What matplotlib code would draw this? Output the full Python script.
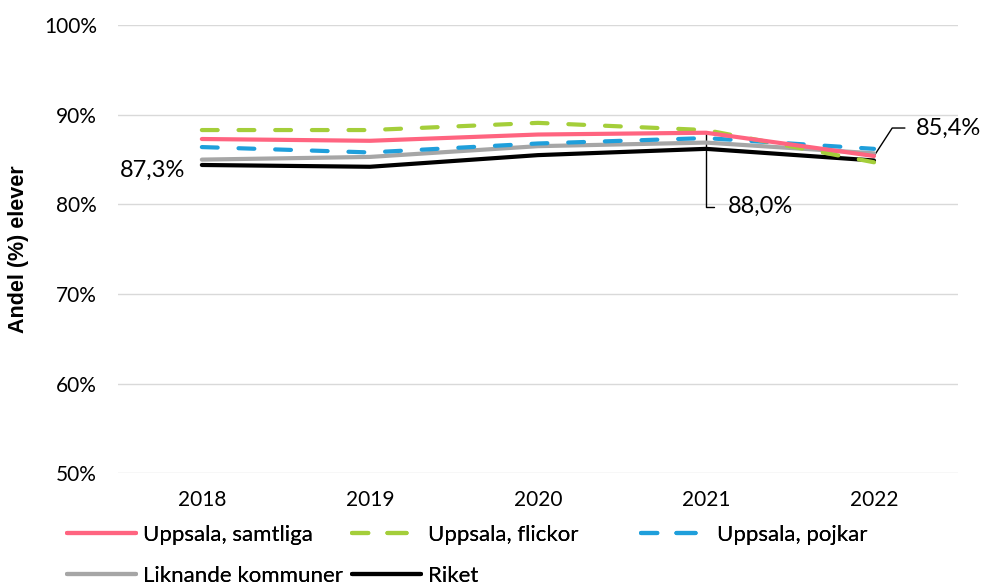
import matplotlib
matplotlib.use("Agg")
import matplotlib.pyplot as plt
from matplotlib.lines import Line2D
from matplotlib.ticker import FuncFormatter

plt.rcParams['font.family'] = ['Lato', 'DejaVu Sans']

years = ["2018", "2019", "2020", "2021", "2022"]
samtliga = [87.3, 87.1, 87.8, 88.0, 85.4]
flickor = [88.3, 88.3, 89.1, 88.3, 84.7]
pojkar = [86.4, 85.8, 86.8, 87.4, 86.2]
liknande = [85.0, 85.3, 86.5, 86.9, 85.7]
riket = [84.4, 84.2, 85.5, 86.2, 84.9]

W, H = 982, 587
fig = plt.figure(figsize=(W / 100, H / 100), dpi=100)
ax = fig.add_axes([0.120, 0.194, 0.8556, 0.763])

x = list(range(len(years)))
dash = (0, (3.8, 5.0))
c_sam, c_fli, c_poj, c_lik, c_rik = '#FF6480', '#A4CE3A', '#1F9FDB', '#A6A6A6', 'black'
l_riket, = ax.plot(x, riket, color=c_rik, lw=3, zorder=3, label='Riket', solid_capstyle='round')
l_lik, = ax.plot(x, liknande, color=c_lik, lw=3, zorder=3.1, label='Liknande kommuner',
                 solid_capstyle='round')
l_poj, = ax.plot(x, pojkar, color=c_poj, lw=3, zorder=3.2, label='Uppsala, pojkar',
                 linestyle=dash, dash_capstyle='round')
l_fli, = ax.plot(x, flickor, color=c_fli, lw=3, zorder=3.3, label='Uppsala, flickor',
                 linestyle=dash, dash_capstyle='round')
l_sam, = ax.plot(x, samtliga, color=c_sam, lw=3, zorder=3.4, label='Uppsala, samtliga',
                 solid_capstyle='round')

ax.set_xlim(-0.5, len(years) - 0.5)
ax.set_ylim(50, 100)
ax.set_yticks([50, 60, 70, 80, 90, 100])
ax.yaxis.set_major_formatter(FuncFormatter(lambda v, p: f"{int(v)}%"))
ax.set_xticks(x)
ax.set_xticklabels(years)
ax.tick_params(axis='both', length=0, labelsize=15, colors='black')
ax.tick_params(axis='x', pad=12)
ax.tick_params(axis='y', pad=15)
ax.grid(axis='y', color='#D9D9D9', lw=1)
ax.set_axisbelow(True)
for s in ax.spines.values():
    s.set_visible(False)

ax.set_ylabel("Andel (%) elever", fontsize=15.5, fontweight='bold', labelpad=11,
              family=['Liberation Sans', 'DejaVu Sans'])

def fmt(v):
    return f"{v:.1f}%".replace('.', ',')

# data labels
ax.annotate(fmt(samtliga[0]), xy=(0, samtliga[0]), xytext=(-17, -31),
            textcoords='offset pixels', ha='right', va='center', fontsize=17)
ax.annotate(fmt(samtliga[3]), xy=(3, samtliga[3]), xytext=(22, -74),
            textcoords='offset pixels', ha='left', va='center', fontsize=17,
            arrowprops=dict(arrowstyle='-', color='black', lw=1,
                            connectionstyle='angle,angleA=0,angleB=90,rad=0',
                            relpos=(0, 0.5), shrinkA=8, shrinkB=0))
ax.annotate(fmt(samtliga[4]), xy=(4, samtliga[4]), xytext=(42, 28),
            textcoords='offset pixels', ha='left', va='center', fontsize=17,
            arrowprops=dict(arrowstyle='-', color='black', lw=1,
                            connectionstyle='angle,angleA=0,angleB=57,rad=0',
                            relpos=(0, 0.5), shrinkA=6, shrinkB=0))

# legend proxies (dashed ones show two dashes like the reference)
ldash = (0.7, (4.6, 4.6))
p_fli = Line2D([], [], color=c_fli, lw=3, linestyle=ldash, dash_capstyle='round')
p_poj = Line2D([], [], color=c_poj, lw=3, linestyle=ldash, dash_capstyle='round')

slots = [(l_sam, 'Uppsala, samtliga', 67, 535, 3.1, 0.3),
         (p_fli, 'Uppsala, flickor', 352, 535, 2.8, 0.6),
         (p_poj, 'Uppsala, pojkar', 641, 535, 2.8, 0.6),
         (l_lik, 'Liknande kommuner', 67, 576, 3.1, 0.3),
         (l_riket, 'Riket', 352, 576, 3.1, 0.3)]
for h, lab, px, py, hl, tp in slots:
    lg = fig.legend([h], [lab], loc='center left',
                    bbox_to_anchor=(px / W, 1 - py / H), frameon=False, fontsize=16,
                    handlelength=hl, handletextpad=tp,
                    borderpad=0, borderaxespad=0)
    fig.add_artist(lg)

fig.savefig("out.png", dpi=100)
